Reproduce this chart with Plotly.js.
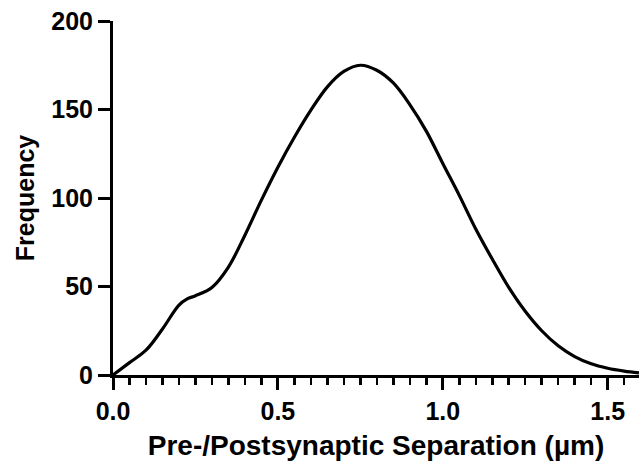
<!DOCTYPE html>
<html>
<head>
<meta charset="utf-8">
<script src="https://cdn.plot.ly/plotly-3.0.1.min.js"></script>
<style>html,body{margin:0;padding:0;background:#fff;}#chart{width:639px;height:469px;}</style>
</head>
<body>
<div id="chart"></div>
<script>
const separation = [0, 0.05, 0.10, 0.15, 0.20, 0.225, 0.25, 0.30, 0.35, 0.40, 0.45, 0.50, 0.55, 0.60, 0.65, 0.70, 0.75, 0.80, 0.85, 0.90, 0.95, 1.00, 1.05, 1.10, 1.15, 1.20, 1.25, 1.30, 1.35, 1.40, 1.45, 1.50, 1.55, 1.595];
const frequency = [0, 7, 14, 26, 39.5, 43, 44.8, 49.5, 61, 79, 98.8, 117.4, 134.3, 149.6, 162.8, 171.5, 175, 172.2, 165, 152.8, 137.8, 119.5, 101.5, 82.5, 65.5, 49.5, 36, 25, 16.5, 10.4, 6.3, 3.8, 2.2, 1.2];
const yTicks = [0, 50, 100, 150, 200];
const xTicks = [0, 0.5, 1.0, 1.5];
const xTickText = ['0.0', '0.5', '1.0', '1.5'];

const fontFam = 'Arial, "Liberation Sans", Helvetica, sans-serif';
const trace = {
  x: separation, y: frequency, type: 'scatter', mode: 'lines',
  line: {color: '#000', width: 3.2, shape: 'spline', smoothing: 1},
  hoverinfo: 'skip'
};
const layout = {
  width: 639, height: 469,
  margin: {l: 113, r: 0, t: 21, b: 94},
  paper_bgcolor: '#fff', plot_bgcolor: '#fff',
  showlegend: false,
  font: {family: fontFam, color: '#000', size: 24, weight: 'bold'},
  xaxis: {
    range: [0, 1.595], showgrid: false, zeroline: false,
    showline: true, linecolor: '#000', linewidth: 3,
    ticks: 'outside', ticklen: 12, tickwidth: 3, tickcolor: '#000',
    tickvals: xTicks, ticktext: xTickText,
    tickfont: {family: fontFam, size: 25, weight: 'bold', color: '#000'},
    minor: {dtick: 0.05, tick0: 0, ticks: 'outside', ticklen: 7, tickwidth: 2.5, tickcolor: '#000', showgrid: false},
    title: {text: 'Pre-/Postsynaptic Separation (µm)', font: {family: fontFam, size: 28, weight: 'bold', color: '#000'}, standoff: 12},
    fixedrange: true
  },
  yaxis: {
    range: [0, 200], showgrid: false, zeroline: false,
    showline: true, linecolor: '#000', linewidth: 3,
    ticks: 'outside', ticklen: 12, tickwidth: 3, tickcolor: '#000',
    tickvals: yTicks,
    tickfont: {family: fontFam, size: 25, weight: 'bold', color: '#000'},
    title: {text: 'Frequency', font: {family: fontFam, size: 25, weight: 'bold', color: '#000'}, standoff: 10},
    fixedrange: true
  }
};
Plotly.newPlot('chart', [trace], layout, {displayModeBar: false, staticPlot: true});
</script>
</body>
</html>
